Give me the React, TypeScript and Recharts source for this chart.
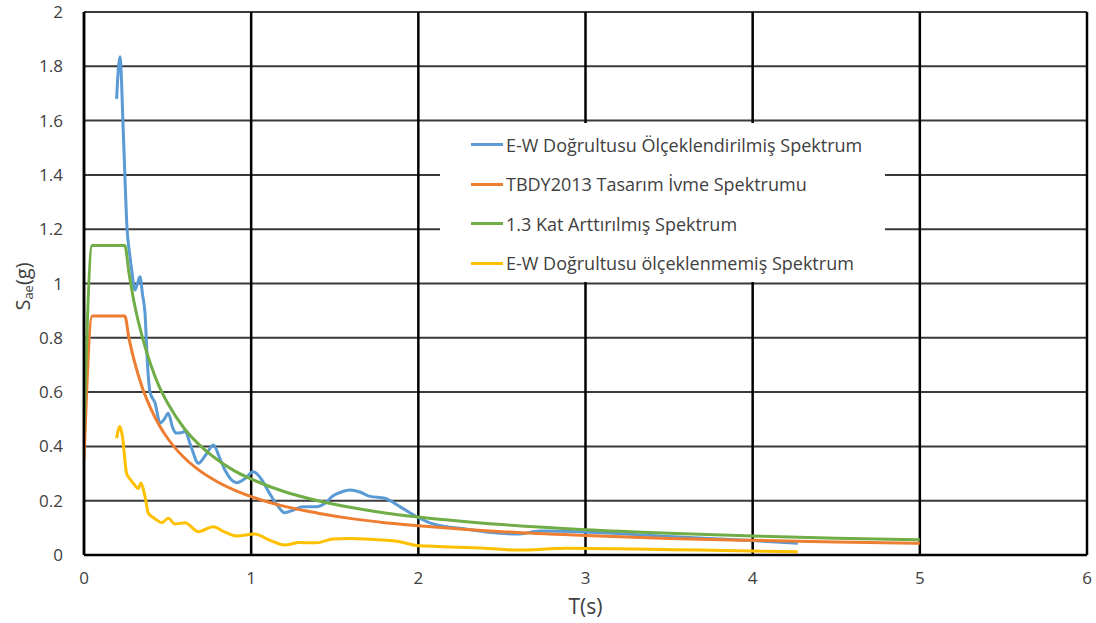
import React from "react";
import { LineChart, Line, XAxis, YAxis, CartesianGrid, Legend } from "recharts";

// x = T (s), y = Sae (g)
const xTicks = [0, 1, 2, 3, 4, 5, 6];
const yTicks = [0, 0.2, 0.4, 0.6, 0.8, 1, 1.2, 1.4, 1.6, 1.8, 2];

const designT = [0, 0.049, 0.1, 0.15, 0.2, 0.244, 0.27, 0.3, 0.35, 0.4, 0.45, 0.5, 0.6, 0.7, 0.8, 0.9, 1.0, 1.2, 1.4, 1.6, 1.8, 2.0, 2.5, 3.0, 3.5, 4.0, 4.5, 5.0];
const designS = [0.35, 0.88, 0.88, 0.88, 0.88, 0.88, 0.795, 0.717, 0.614, 0.538, 0.478, 0.43, 0.358, 0.307, 0.269, 0.239, 0.215, 0.179, 0.154, 0.134, 0.119, 0.108, 0.086, 0.072, 0.061, 0.054, 0.048, 0.043];
const amplifiedS = [0.46, 1.14, 1.14, 1.14, 1.14, 1.14, 1.035, 0.93, 0.8, 0.7, 0.62, 0.56, 0.466, 0.4, 0.35, 0.31, 0.28, 0.233, 0.2, 0.175, 0.155, 0.14, 0.112, 0.093, 0.08, 0.07, 0.062, 0.056];

const scaledT = [0.195, 0.215, 0.235, 0.245, 0.255, 0.275, 0.285, 0.305, 0.32, 0.335, 0.35, 0.365, 0.38, 0.395, 0.425, 0.455, 0.48, 0.504, 0.53, 0.55, 0.58, 0.604, 0.64, 0.684, 0.73, 0.774, 0.81, 0.843, 0.913, 0.96, 1.013, 1.06, 1.11, 1.16, 1.2, 1.25, 1.31, 1.39, 1.44, 1.49, 1.54, 1.59, 1.65, 1.71, 1.8, 1.89, 1.99, 2.09, 2.29, 2.49, 2.59, 2.73, 2.99, 3.5, 4.0, 4.27];
const scaledS = [1.68, 1.835, 1.56, 1.39, 1.23, 1.1, 1.05, 0.976, 1.0, 1.025, 0.96, 0.89, 0.7, 0.6, 0.56, 0.486, 0.5, 0.522, 0.47, 0.449, 0.45, 0.455, 0.4, 0.338, 0.37, 0.405, 0.36, 0.313, 0.266, 0.28, 0.307, 0.28, 0.227, 0.18, 0.156, 0.165, 0.178, 0.178, 0.19, 0.218, 0.232, 0.239, 0.232, 0.216, 0.209, 0.178, 0.141, 0.114, 0.095, 0.08, 0.077, 0.088, 0.085, 0.068, 0.053, 0.043];

const rawT = [0.195, 0.215, 0.23, 0.255, 0.275, 0.295, 0.325, 0.341, 0.365, 0.385, 0.41, 0.435, 0.465, 0.504, 0.544, 0.604, 0.684, 0.774, 0.84, 0.913, 1.02, 1.11, 1.2, 1.29, 1.39, 1.49, 1.59, 1.71, 1.79, 1.89, 1.99, 2.09, 2.4, 2.59, 2.89, 3.3, 3.68, 4.27];
const rawS = [0.43, 0.473, 0.436, 0.3, 0.28, 0.264, 0.245, 0.265, 0.215, 0.154, 0.14, 0.129, 0.119, 0.135, 0.114, 0.119, 0.086, 0.104, 0.085, 0.07, 0.077, 0.055, 0.037, 0.046, 0.045, 0.059, 0.061, 0.058, 0.055, 0.049, 0.035, 0.032, 0.025, 0.018, 0.025, 0.022, 0.018, 0.012];

const toPoints = (t: number[], s: number[]) => t.map((x, i) => ({ t: x, s: s[i] }));

const series = [
  { name: "E-W Doğrultusu Ölçeklendirilmiş Spektrum", color: "#5B9BD5", data: toPoints(scaledT, scaledS) },
  { name: "TBDY2013 Tasarım İvme Spektrumu", color: "#ED7D31", data: toPoints(designT, designS) },
  { name: "1.3 Kat Arttırılmış Spektrum", color: "#70AD47", data: toPoints(designT, amplifiedS) },
  { name: "E-W Doğrultusu ölçeklenmemiş Spektrum", color: "#FFC000", data: toPoints(rawT, rawS) },
];

const FONT = "'Open Sans', sans-serif";
const TEXT = "#404040";

const LegendBox = () => (
  <div style={{ background: "#fff", width: 445, height: 159, paddingTop: 2, boxSizing: "border-box" }}>
    {series.map((s) => (
      <div key={s.name} style={{ display: "flex", alignItems: "center", height: 39.5, paddingLeft: 31 }}>
        <span style={{ display: "inline-block", width: 32, height: 3, background: s.color, marginRight: 3 }} />
        <span style={{ fontFamily: FONT, fontSize: 18, color: TEXT, whiteSpace: "nowrap" }}>{s.name}</span>
      </div>
    ))}
  </div>
);

const YLabel = (props: any) => {
  const vb = props.viewBox || {};
  const cx = vb.x + 22;
  const cy = vb.y + vb.height / 2 + 3;
  return (
    <text x={cx} y={cy} transform={`rotate(-90, ${cx}, ${cy})`} textAnchor="middle" dominantBaseline="central"
      fontFamily={FONT} fontSize={20} fill={TEXT}>
      S<tspan fontSize={13} dy={6}>ae</tspan><tspan dy={-6}>(g)</tspan>
    </text>
  );
};

export default function App() {
  return (
    <div style={{ position: "absolute", left: 0, top: 0 }}>
      <LineChart width={1096} height={623} margin={{ top: 12, right: 9, left: 0, bottom: 0 }}>
        <CartesianGrid vertical={false} stroke="#3a3a3a" strokeWidth={2} />
        <CartesianGrid horizontal={false} stroke="#000" strokeWidth={2.5} />
        <XAxis type="number" dataKey="t" domain={[0, 6]} ticks={xTicks} allowDataOverflow
          height={68} tickSize={0} tickMargin={17} axisLine={{ stroke: "#000", strokeWidth: 2.5 }}
          tick={{ fontFamily: FONT, fontSize: 17, fill: TEXT }}
          label={{ value: "T(s)", position: "insideBottom", offset: 9, fontFamily: FONT, fontSize: 21, fill: TEXT }} />
        <YAxis type="number" dataKey="s" domain={[0, 2]} ticks={yTicks} allowDataOverflow
          width={84} tickSize={0} tickMargin={21} axisLine={{ stroke: "#000", strokeWidth: 2.5 }}
          tick={{ fontFamily: FONT, fontSize: 17, fill: TEXT }}
          label={<YLabel />} />
        <Legend layout="vertical" align="center" verticalAlign="middle" content={<LegendBox />}
          wrapperStyle={{ left: 440, top: 123, width: 445, height: 159 }} />
        {series.map((s) => (
          <Line key={s.name} data={s.data} dataKey="s" name={s.name} type="monotone" stroke={s.color}
            strokeWidth={3} dot={false} activeDot={false} isAnimationActive={false} />
        ))}
      </LineChart>
    </div>
  );
}
